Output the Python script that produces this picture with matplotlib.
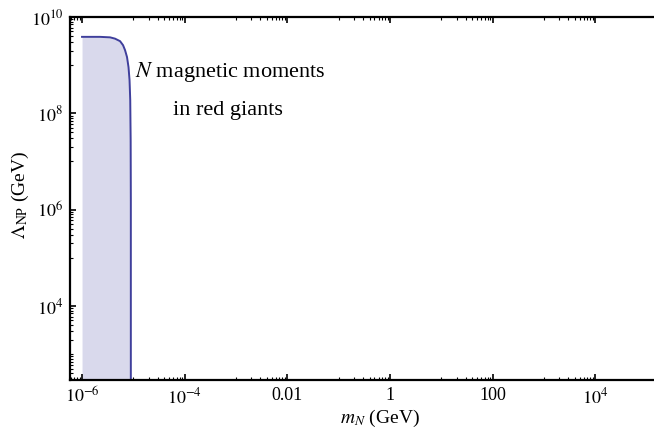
import numpy as np
import matplotlib
matplotlib.use("Agg")
import matplotlib.pyplot as plt
from matplotlib.ticker import FixedLocator, FixedFormatter, NullFormatter

plt.rcParams['font.family'] = ['Liberation Serif', 'DejaVu Serif']
plt.rcParams['mathtext.fontset'] = 'stix'

# boundary of the excluded region
m_N = [1.0e-6, 2.24e-6, 3.52e-6, 4.40e-6, 5.51e-6, 6.30e-6, 6.89e-6, 7.53e-6,
       8.05e-6, 8.43e-6, 8.70e-6, 8.86e-6, 8.93e-6, 8.93e-6]
lam = [3.87e9, 3.87e9, 3.78e9, 3.55e9, 3.15e9, 2.60e9, 2.05e9, 1.47e9,
       9.1e8, 4.9e8, 1.88e8, 2.78e7, 1.58e6, 290]

x_ticks = [1e-6, 1e-4, 1e-2, 1, 1e2, 1e4]
x_labels = [r'$10^{-6}$', r'$10^{-4}$', '0.01', '1', '100', r'$10^{4}$']
y_ticks = [1e4, 1e6, 1e8, 1e10]
y_labels = [r'$10^{4}$', r'$10^{6}$', r'$10^{8}$', r'$10^{10}$']

fig = plt.figure(figsize=(6.54, 4.32), dpi=100)
ax = fig.add_axes([70/654, 52/432, 592/654, 363/432])

ax.fill_between(m_N, 290, lam, color='#d9d9ec', lw=0)
ax.plot(m_N, lam, color='#3f3f9c', lw=1.4)

ax.set_xscale('log')
ax.set_yscale('log')
ax.set_xlim(5.83e-7, 2.0e5)
ax.set_ylim(290, 1e10)

# Mathematica style ticks: major every 2 decades, minor in the odd decades
ax.xaxis.set_major_locator(FixedLocator(x_ticks))
ax.xaxis.set_major_formatter(FixedFormatter(x_labels))
x_minor = [m * 10.0**k for k in [-7, -5, -3, -1, 1, 3] for m in range(1, 10)]
ax.xaxis.set_minor_locator(FixedLocator(x_minor))
ax.xaxis.set_minor_formatter(NullFormatter())

ax.yaxis.set_major_locator(FixedLocator(y_ticks))
ax.yaxis.set_major_formatter(FixedFormatter(y_labels))
y_minor = [m * 10.0**k for k in [2, 3, 5, 7, 9] for m in range(1, 10)]
ax.yaxis.set_minor_locator(FixedLocator(y_minor))
ax.yaxis.set_minor_formatter(NullFormatter())

ax.tick_params(which='both', direction='in', top=True, right=True, labelsize=13, width=1.2)
ax.tick_params(which='major', length=4, pad=5)
ax.tick_params(which='minor', length=2.5, width=0.8)
for s in ax.spines.values():
    s.set_linewidth(1.6)

ax.set_xlabel(r'$m_N$ (GeV)', fontsize=14)
ax.set_ylabel(r'$\Lambda_{\mathrm{NP}}$ (GeV)', fontsize=14)
ax.xaxis.set_label_coords(0.524, -0.078)
ax.yaxis.set_label_coords(-0.066, 0.51)

ax.text(1.08e-5, 7.2e8, r'$N$ magnetic moments', fontsize=16, va='center')
ax.text(5.94e-5, 1.16e8, 'in red giants', fontsize=16, va='center')

fig.savefig('out.png', dpi=100)
